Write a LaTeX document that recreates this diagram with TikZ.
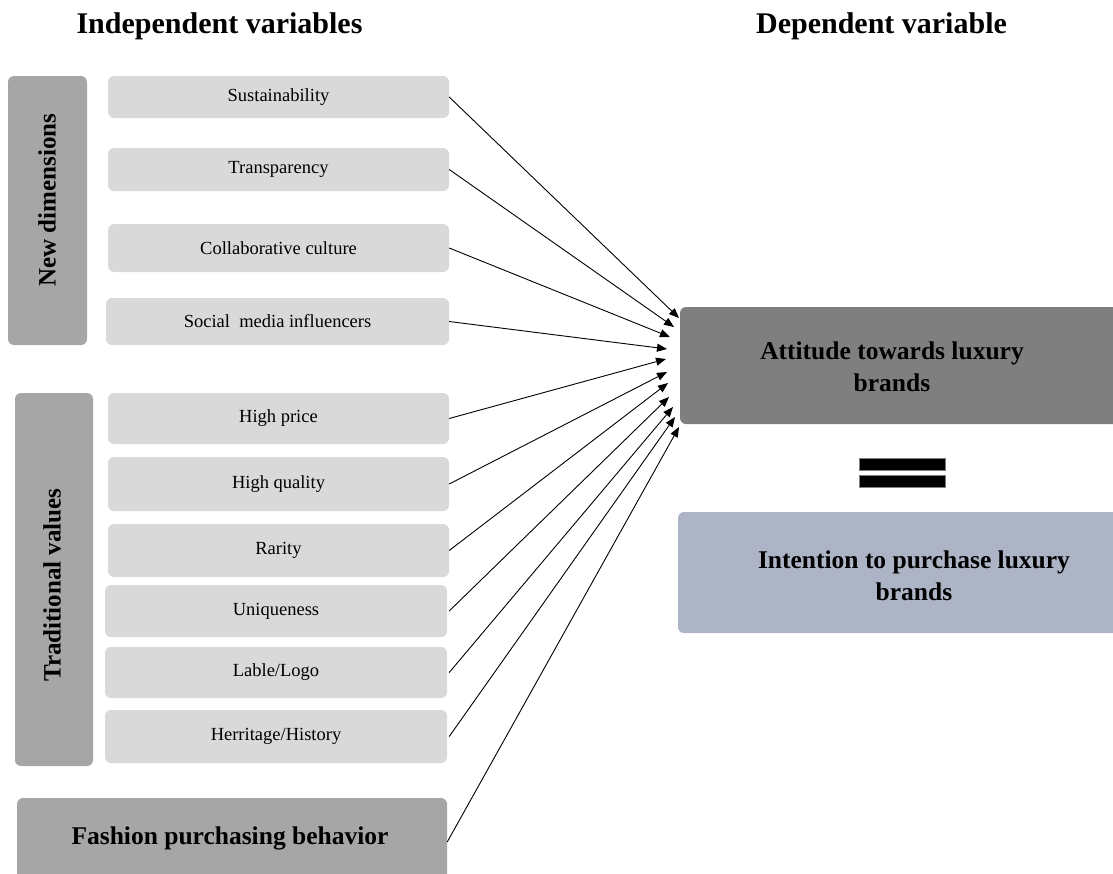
\documentclass[tikz,border=0pt]{standalone}
\usepackage{fontspec}
\setmainfont{Liberation Serif}
\usetikzlibrary{arrows.meta}
\definecolor{grpgray}{HTML}{A6A6A6}
\definecolor{itemgray}{HTML}{D9D9D9}
\definecolor{depgray}{HTML}{7F7F7F}
\definecolor{intblue}{HTML}{ACB4C6}
\begin{document}
\begin{tikzpicture}[x=1pt,y=-1pt,
  item/.style={fill=itemgray, rounded corners=6pt, inner sep=0pt, minimum width=341pt,
    font=\fontsize{18.5}{22}\selectfont},
  grp/.style={fill=grpgray, rounded corners=6pt, inner sep=0pt},
  grptext/.style={font=\fontsize{25}{30}\selectfont\bfseries, rotate=90, inner sep=0pt},
  bigtext/.style={font=\fontsize{25.5}{32}\selectfont\bfseries, align=center, inner sep=0pt},
  headtext/.style={font=\fontsize{30}{36}\selectfont\bfseries, anchor=base, inner sep=0pt},
  eqbar/.style={fill=black, draw=gray, line width=0.6pt, minimum width=86pt, minimum height=12pt, inner sep=0pt},
  conn/.style={-{Triangle[length=10pt,width=8pt]}, line width=0.9pt, black}]
\useasboundingbox (0,0) rectangle (1113,873);
\clip (0,0) rectangle (1113,873);
% headers
\node[headtext] (hind) at (219.5,33) {Independent variables};
\node[headtext] (hdep) at (881.5,33) {Dependent variable};
% group boxes
\node[grp, minimum width=79pt, minimum height=269pt] (newdim) at (47.5,210.5) {};
\node[grptext] at (47,200) {New dimensions};
\node[grp, minimum width=78pt, minimum height=373pt] (trad) at (54,579.5) {};
\node[grptext] at (52,585) {Traditional values};
% items
\node[item, minimum height=42pt] (sus) at (278.5,97) {Sustainability};
\node[item, minimum height=43pt] (tra) at (278.5,169.5) {Transparency};
\node[item, minimum height=48pt] (col) at (278.5,248) {Collaborative culture};
\node[item, minimum width=343pt, minimum height=47pt] (soc) at (277.5,321.5) {Social\ \ media influencers};
\node[item, minimum height=51pt] (hp) at (278.5,418.5) {High price};
\node[item, minimum height=54pt] (hq) at (278.5,484) {High quality};
\node[item, minimum height=53pt] (rar) at (278.5,550.5) {Rarity};
\node[item, minimum width=342pt, minimum height=52pt] (uni) at (276,611) {Uniqueness};
\node[item, minimum width=342pt, minimum height=51pt] (lab) at (276,672.5) {Lable/Logo};
\node[item, minimum width=342pt, minimum height=53pt] (her) at (276,736.5) {Herritage/History};
% fashion
\node[grp, minimum width=430pt, minimum height=82pt] (fash) at (232,839) {};
\node[bigtext] at (230,838) {Fashion purchasing behavior};
% dependent
\node[fill=depgray, rounded corners=6pt, inner sep=0pt, minimum width=445pt, minimum height=117pt] (att) at (902.5,365.5) {};
\node[bigtext] at (892,367) {Attitude towards luxury\\brands};
\node[eqbar] (eq1) at (902.5,464.5) {};
\node[eqbar] (eq2) at (902.5,481) {};
\node[fill=intblue, rounded corners=6pt, inner sep=0pt, minimum width=447pt, minimum height=121pt] (int) at (901.5,572.5) {};
\node[bigtext] at (914,576) {Intention to purchase luxury\\brands};
% arrow tips
\coordinate (t1) at (679,318);
\coordinate (t2) at (674,327);
\coordinate (t3) at (670,337);
\coordinate (t4) at (667,349);
\coordinate (t5) at (666,359);
\coordinate (t6) at (667,372);
\coordinate (t7) at (668,383);
\coordinate (t8) at (669,397);
\coordinate (t9) at (673,407);
\coordinate (t10) at (675,417);
\coordinate (t11) at (679,427);
\draw[conn] (sus.east) -- (t1);
\draw[conn] (tra.east) -- (t2);
\draw[conn] (col.east) -- (t3);
\draw[conn] (soc.east) -- (t4);
\draw[conn] (hp.east) -- (t5);
\draw[conn] (hq.east) -- (t6);
\draw[conn] (rar.east) -- (t7);
\draw[conn] ([xshift=2pt]uni.east) -- (t8);
\draw[conn] ([xshift=2pt]lab.east) -- (t9);
\draw[conn] ([xshift=2pt]her.east) -- (t10);
\draw[conn] ([yshift=-3pt]fash.east) -- (t11);
\end{tikzpicture}
\end{document}
